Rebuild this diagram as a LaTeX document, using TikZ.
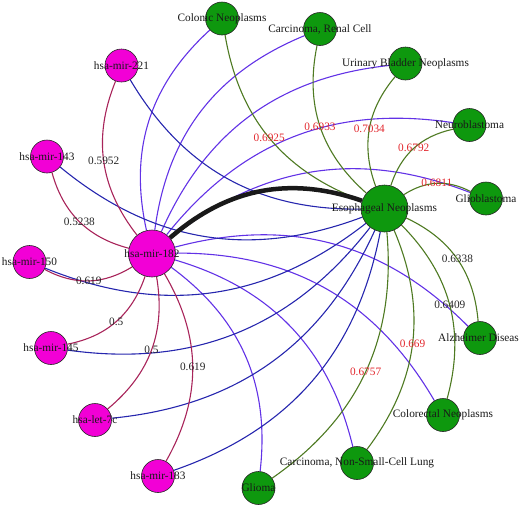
\documentclass[tikz,border=0pt]{standalone}
\usepackage{fontspec}
\setmainfont{Liberation Serif}
\usetikzlibrary{backgrounds}
\definecolor{mirfill}{HTML}{F200D6}
\definecolor{disfill}{HTML}{0E980E}
\definecolor{crim}{HTML}{A8245A}
\definecolor{purp}{HTML}{6232E6}
\definecolor{navyb}{HTML}{2626AE}
\definecolor{oliv}{HTML}{4E7A22}
\definecolor{redlbl}{HTML}{E2262C}
\begin{document}
\begin{tikzpicture}[x=1pt,y=-1pt,
  mir/.style={circle,draw=black!85,fill=mirfill,minimum size=33pt,inner sep=0pt,line width=0.6pt},
  dis/.style={circle,draw=black!85,fill=disfill,minimum size=33pt,inner sep=0pt,line width=0.6pt},
  big/.style={minimum size=47pt},
  lbl/.style={inner sep=0pt,text=black!90,font=\fontsize{11.3}{13}\selectfont},
  elbl/.style={inner sep=0pt,text=black!85,font=\fontsize{11.3}{13}\selectfont},
  rlbl/.style={elbl,text=redlbl},
  crimedge/.style={draw=crim,line width=1.1pt,bend left=30},
  purpedge/.style={draw=purp,line width=1.1pt,bend left=30},
  blueedge/.style={draw=navyb,line width=1.1pt,bend left=30},
  oliveedge/.style={draw=oliv,line width=1.1pt,bend left=30},
  thickedge/.style={draw=black!90,line width=4.5pt,bend left=30}
]
\useasboundingbox (0,0) rectangle (520,507);
% disease nodes
\node[dis] (col) at (222,18.5) {};
\node[dis] (ren) at (320,29) {};
\node[dis] (uri) at (405.5,63.5) {};
\node[dis] (neu) at (469.5,125) {};
\node[dis] (glb) at (486,198.5) {};
\node[dis,big] (eso) at (384.5,208.5) {};
\node[dis] (alz) at (480,338) {};
\node[dis] (crc) at (443,415) {};
\node[dis] (lun) at (357,463) {};
\node[dis] (gli) at (258.5,488) {};
% miRNA nodes
\node[mir] (m221) at (121.5,65.5) {};
\node[mir] (m143) at (47,156.5) {};
\node[mir,big] (m182) at (152,253.5) {};
\node[mir] (m150) at (29.5,262) {};
\node[mir] (m145) at (51,348) {};
\node[mir] (l7c) at (95,420) {};
\node[mir] (m183) at (158,476) {};
\begin{scope}[on background layer]
% purple: hsa-mir-182 to diseases
\draw[purpedge] (m182) to (col);
\draw[purpedge] (m182) to (ren);
\draw[purpedge] (m182) to (uri);
\draw[purpedge] (m182) to (neu);
\draw[purpedge] (m182) to (glb);
\draw[purpedge] (m182) to (alz);
\draw[purpedge] (m182) to (crc);
\draw[purpedge] (m182) to (lun);
\draw[purpedge] (m182) to (gli);
% blue: Esophageal to miRNAs
\draw[blueedge] (eso) to (m221);
\draw[blueedge] (eso) to (m143);
\draw[blueedge] (eso) to (m150);
\draw[blueedge] (eso) to (m145);
\draw[blueedge] (eso) to (l7c);
\draw[blueedge] (eso) to (m183);
% crimson: hsa-mir-182 to miRNAs
\draw[crimedge] (m182) to node[elbl]{0.5952} (m221);
\draw[crimedge] (m182) to node[elbl]{0.5238} (m143);
\draw[crimedge] (m182) to node[elbl]{0.619} (m150);
\draw[crimedge] (m182) to node[elbl]{0.5} (m145);
\draw[crimedge] (m182) to node[elbl]{0.5} (l7c);
\draw[crimedge] (m182) to node[elbl]{0.619} (m183);
% olive: Esophageal to diseases
\draw[oliveedge] (eso) to node[rlbl]{0.6925} (col);
\draw[oliveedge] (eso) to node[rlbl]{0.6933} (ren);
\draw[oliveedge] (eso) to node[rlbl]{0.7034} (uri);
\draw[oliveedge] (eso) to node[rlbl]{0.6792} (neu);
\draw[oliveedge] (eso) to node[rlbl]{0.6811} (glb);
\draw[oliveedge] (eso) to node[elbl]{0.6338} (alz);
\draw[oliveedge] (eso) to node[elbl]{0.6409} (crc);
\draw[oliveedge] (eso) to node[rlbl]{0.669} (lun);
\draw[oliveedge] (eso) to node[rlbl]{0.6757} (gli);
% thick black
\draw[thickedge] (m182) to (eso);
\end{scope}
% node labels
\node[lbl] at (col) {Colonic Neoplasms};
\node[lbl] at (ren) {Carcinoma, Renal Cell};
\node[lbl] at (uri) {Urinary Bladder Neoplasms};
\node[lbl] at (neu) {Neuroblastoma};
\node[lbl] at (glb) {Glioblastoma};
\node[lbl] at (eso) {Esophageal Neoplasms};
\node[lbl,anchor=west] at ([xshift=-42pt]alz.center) {Alzheimer Diseas};
\node[lbl] at (crc) {Colorectal Neoplasms};
\node[lbl] at (lun) {Carcinoma, Non-Small-Cell Lung};
\node[lbl] at (gli) {Glioma};
\node[lbl] at (m221) {hsa-mir-221};
\node[lbl] at (m143) {hsa-mir-143};
\node[lbl] at (m182) {hsa-mir-182};
\node[lbl] at (m150) {hsa-mir-150};
\node[lbl] at (m145) {hsa-mir-145};
\node[lbl] at (l7c) {hsa-let-7c};
\node[lbl] at (m183) {hsa-mir-183};
\end{tikzpicture}
\end{document}
